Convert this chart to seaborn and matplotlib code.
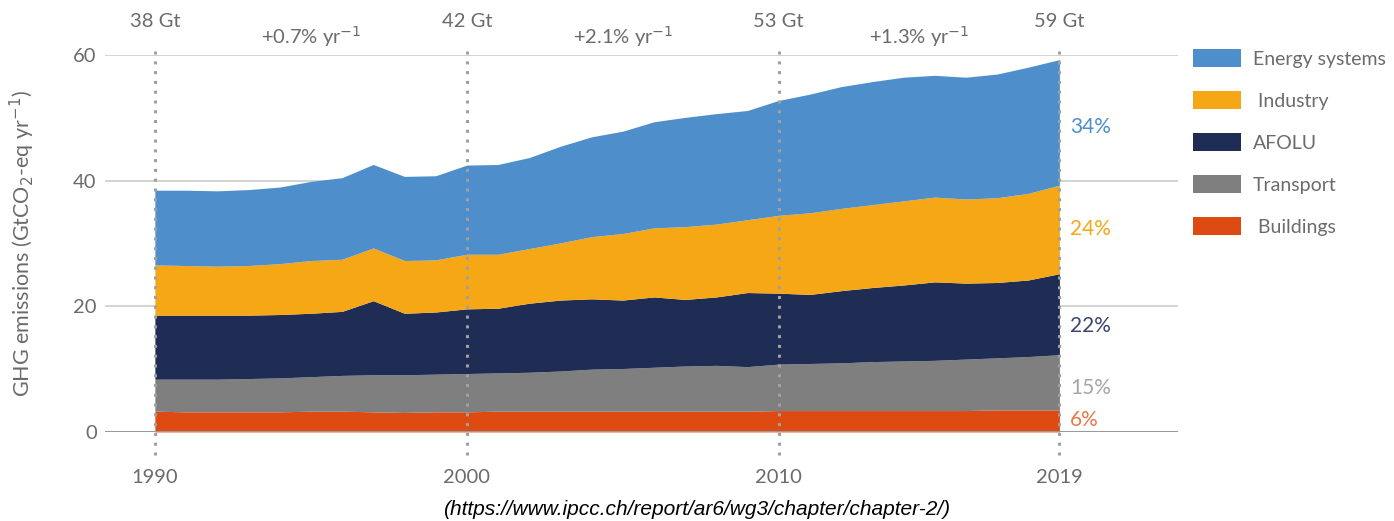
import numpy as np
import matplotlib
matplotlib.use("Agg")
import matplotlib.pyplot as plt
import seaborn as sns
from matplotlib.patches import Patch

# GHG emissions by sector, GtCO2-eq per year
years = list(range(1990, 2020))
buildings = [3.3, 3.2, 3.2, 3.2, 3.2, 3.3, 3.3, 3.2, 3.1, 3.2,
             3.2, 3.3, 3.3, 3.3, 3.3, 3.3, 3.3, 3.3, 3.3, 3.3,
             3.4, 3.4, 3.4, 3.4, 3.4, 3.4, 3.4, 3.5, 3.5, 3.5]
transport = [5.1, 5.2, 5.2, 5.3, 5.4, 5.5, 5.7, 5.9, 6.0, 6.0,
             6.1, 6.1, 6.2, 6.4, 6.7, 6.8, 7.0, 7.2, 7.3, 7.1,
             7.4, 7.5, 7.6, 7.8, 7.9, 8.0, 8.2, 8.3, 8.5, 8.8]
afolu = [10.2, 10.2, 10.2, 10.1, 10.1, 10.1, 10.2, 11.8, 9.8, 9.9,
         10.3, 10.3, 11.0, 11.3, 11.2, 10.9, 11.2, 10.6, 10.9, 11.8,
         11.3, 11.0, 11.5, 11.8, 12.1, 12.5, 12.1, 12.0, 12.2, 12.9]
industry = [8.0, 7.9, 7.8, 7.9, 8.1, 8.4, 8.3, 8.4, 8.4, 8.3,
            8.7, 8.6, 8.7, 9.1, 9.9, 10.6, 11.0, 11.6, 11.6, 11.6,
            12.4, 13.0, 13.1, 13.2, 13.4, 13.5, 13.4, 13.5, 13.8, 14.1]
energy = [11.9, 12.0, 12.0, 12.1, 12.2, 12.6, 13.0, 13.3, 13.4, 13.4,
          14.2, 14.3, 14.5, 15.4, 15.9, 16.3, 16.9, 17.4, 17.6, 17.4,
          18.3, 18.9, 19.4, 19.6, 19.7, 19.4, 19.4, 19.7, 20.1, 20.0]

legend_labels = ["Energy systems", " Industry", "AFOLU", "Transport", " Buildings"]
colors = ["#4e8fcb", "#f5a716", "#1f2d55", "#7f7f7f", "#dd4a12"]
share_labels = ["34%", "24%", "22%", "15%", "6%"]
share_colors = ["#4e8fcb", "#f5a716", "#3d4370", "#a6a6a6", "#e57a48"]

marker_years = [1990, 2000, 2010, 2019]
marker_totals = ["38 Gt", "42 Gt", "53 Gt", "59 Gt"]
growth_labels = ["+0.7% yr$^{-1}$", "+2.1% yr$^{-1}$", "+1.3% yr$^{-1}$"]

sns.set_style("white")
plt.rcParams["font.family"] = ["Lato", "DejaVu Sans"]
grey_txt = "#6b6b6b"
fs = 14.5

fig = plt.figure(figsize=(13.94, 5.21), dpi=100)
ax = fig.add_axes([0.0753, 0.171, 0.7697, 0.723])

# stack bottom -> top
ax.stackplot(years, buildings, transport, afolu, industry, energy,
             colors=colors[::-1], linewidth=0, zorder=2)

ax.set_xlim(1988.4, 2022.8)
ax.set_ylim(0, 60)

for v in [20, 40, 60]:
    ax.axhline(v, color="#c8c8c8", lw=1.1, zorder=1)
ax.axhline(0, color="#9a9a9a", lw=2.2, zorder=4)

for s in ax.spines.values():
    s.set_visible(False)

ax.set_yticks([0, 20, 40, 60])
ax.set_xticks(marker_years)
ax.tick_params(axis="both", length=0, labelsize=fs, colors=grey_txt)
ax.tick_params(axis="x", pad=27)
ax.tick_params(axis="y", pad=6)
ax.set_ylabel("GHG emissions (GtCO$_2$-eq yr$^{-1}$)", fontsize=15.5,
              color=grey_txt, labelpad=26)

# dotted year markers
for yr, lab in zip(marker_years, marker_totals):
    ax.plot([yr, yr], [-3.7, 61.6], ls=(0, (1, 2.2)), lw=2.2,
            color="#a0a0a0", clip_on=False, zorder=3)
    ax.text(yr, 64.0, lab, ha="center", va="bottom", fontsize=fs,
            color=grey_txt, clip_on=False)

for i, lab in enumerate(growth_labels):
    mid = (marker_years[i] + marker_years[i + 1]) / 2
    ax.text(mid, 61.0, lab, ha="center", va="bottom", fontsize=fs,
            color=grey_txt, clip_on=False)

# share of 2019 emissions, placed at the middle of each band
stack = [energy, industry, afolu, transport, buildings]
tops = np.cumsum([buildings[-1], transport[-1], afolu[-1], industry[-1], energy[-1]])[::-1]
mids = [t - v[-1] / 2 for t, v in zip(tops, stack)]
offsets = [-0.8, 0.0, -1.9, -0.9, 0.2]
for lab, col, m, o in zip(share_labels, share_colors, mids, offsets):
    ax.text(2019.35, m + o, lab, ha="left", va="center", fontsize=15,
            color=col)

handles = [Patch(facecolor=c, edgecolor="none") for c in colors]
fig.legend(handles, legend_labels, loc="upper left",
           bbox_to_anchor=(0.856, 0.906), frameon=False, fontsize=14,
           handlelength=2.45, handleheight=1.05, labelspacing=1.2,
           handletextpad=0.6, borderpad=0, borderaxespad=0,
           labelcolor=grey_txt)

fig.text(0.5, 0.022, "(https://www.ipcc.ch/report/ar6/wg3/chapter/chapter-2/)",
         ha="center", va="center", fontsize=15, style="italic",
         family=["Liberation Sans", "DejaVu Sans"], color="black")

plt.savefig("out.png", dpi=100)
